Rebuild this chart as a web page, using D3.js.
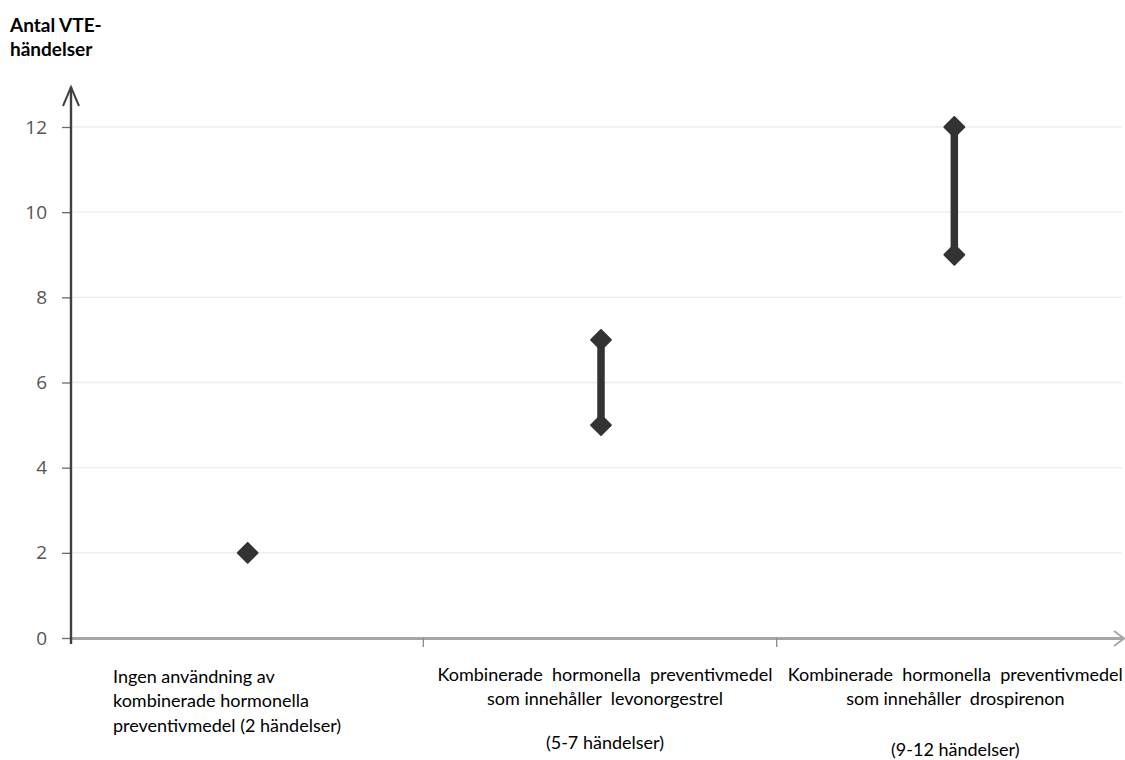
<!DOCTYPE html>
<html><head><meta charset="utf-8">
<script src="https://cdn.jsdelivr.net/npm/d3@7"></script>
<style>
body{margin:0;background:#fff;}
svg{display:block;}
</style></head>
<body>
<svg id="c" width="1125" height="760"></svg>
<script>
const categories = ["none", "levo", "dros"];
const lowValues = [2, 5, 9];
const highValues = [2, 7, 12];
const yTicks = [0, 2, 4, 6, 8, 10, 12];
const categoryLabels = [
  ["Ingen användning av", "kombinerade hormonella", "preventivmedel (2 händelser)"],
  ["Kombinerade  hormonella  preventivmedel", "som innehåller  levonorgestrel", "(5-7 händelser)"],
  ["Kombinerade  hormonella  preventivmedel", "som innehåller  drospirenon", "(9-12 händelser)"]
];
const yTitle = ["Antal VTE-", "händelser"];

const svg = d3.select("#c");
const x = d3.scaleBand().domain(categories).range([71, 1131]).padding(0);
const y = d3.scaleLinear().domain([0, 12]).range([638, 127]);
const font = "Lato, 'Open Sans', sans-serif";

// gridlines
svg.append("g").selectAll("line").data(yTicks.filter(d => d > 0)).join("line")
  .attr("x1", 71).attr("x2", 1122)
  .attr("y1", d => y(d)).attr("y2", d => y(d))
  .attr("stroke", "#ececec").attr("stroke-width", 1.3);

// y axis
const yAxis = d3.axisLeft(y).tickValues(yTicks).tickSize(9).tickPadding(15);
const gy = svg.append("g").attr("transform", "translate(71,0)").call(yAxis);
gy.select(".domain").remove();
gy.selectAll(".tick line").attr("stroke", "#6b6b6b").attr("stroke-width", 1.3);
gy.selectAll(".tick text").attr("fill", "#555").style("font-family", "'Open Sans', sans-serif").style("font-size", "19px");

// x axis
const xAxis = d3.axisBottom(x).tickValues([]).tickSizeOuter(0);
const gx = svg.append("g").attr("transform", "translate(0,638)").call(xAxis);
gx.select(".domain").remove();
svg.append("line").attr("x1", 70).attr("x2", 1124).attr("y1", 638.5).attr("y2", 638.5)
  .attr("stroke", "#a6a6a6").attr("stroke-width", 3);
svg.append("path").attr("d", "M1114,631 L1124,638.5 L1114,646")
  .attr("fill", "none").attr("stroke", "#a6a6a6").attr("stroke-width", 2);
// category boundary ticks
svg.append("g").selectAll("line").data(categories.slice(1)).join("line")
  .attr("x1", d => x(d) - 1).attr("x2", d => x(d) - 1)
  .attr("y1", 638).attr("y2", 647)
  .attr("stroke", "#8c8c8c").attr("stroke-width", 1.3);

// y axis line + arrow
svg.append("line").attr("x1", 71).attr("x2", 71).attr("y1", 87).attr("y2", 644)
  .attr("stroke", "#404040").attr("stroke-width", 2.4);
svg.append("path").attr("d", "M63,106 L71,87 L79,106")
  .attr("fill", "none").attr("stroke", "#404040").attr("stroke-width", 2);

// range lines
const cx = d => x(d) + x.bandwidth() / 2;
svg.append("g").selectAll("line").data(categories.map((c, i) => ({c, lo: lowValues[i], hi: highValues[i]})).filter(d => d.hi > d.lo))
  .join("line")
  .attr("x1", d => cx(d.c)).attr("x2", d => cx(d.c))
  .attr("y1", d => y(d.lo)).attr("y2", d => y(d.hi))
  .attr("stroke", "#333").attr("stroke-width", 7.5);

// diamonds
const pts = [];
categories.forEach((c, i) => {
  pts.push({c, v: lowValues[i]});
  if (highValues[i] !== lowValues[i]) pts.push({c, v: highValues[i]});
});
svg.append("g").selectAll("path").data(pts).join("path")
  .attr("transform", d => `translate(${cx(d.c)},${y(d.v)})`)
  .attr("d", "M0,-10 L10,0 L0,10 L-10,0 Z")
  .attr("fill", "#333").attr("stroke", "#333").attr("stroke-width", 1.8).attr("stroke-linejoin", "round");

// category labels
const lblBase = [[683, 707, 732], [681, 705, 749], [681, 705, 756]];
const lblX = [113, cx(categories[1]) + 4, cx(categories[2]) + 1];
categoryLabels.forEach((lines, i) => {
  const first = i === 0;
  const t = svg.append("text")
    .style("font-family", font).style("font-size", "18px").style("white-space", "pre")
    .attr("fill", "#000")
    .attr("text-anchor", first ? "start" : "middle");
  lines.forEach((ln, j) => {
    t.append("tspan").attr("x", lblX[i]).attr("y", lblBase[i][j]).text(ln);
  });
});

// y title
const tt = svg.append("text").style("font-family", font).style("font-size", "19px")
  .style("font-weight", "bold").attr("fill", "#000");
yTitle.forEach((ln, j) => tt.append("tspan").attr("x", 10).attr("y", 32 + j * 24).text(ln));
</script>
</body></html>
